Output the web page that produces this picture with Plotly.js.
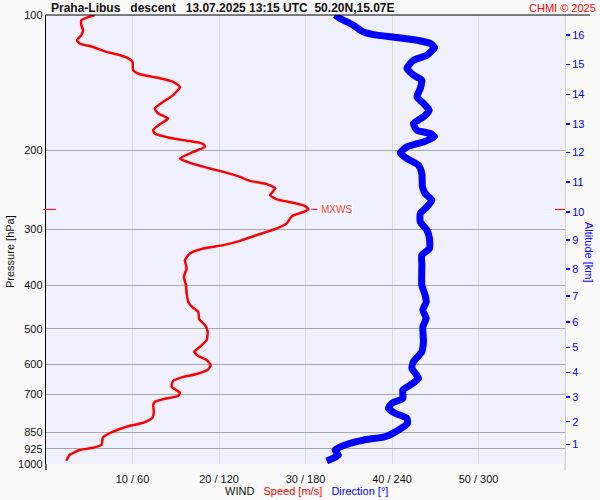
<!DOCTYPE html>
<html>
<head>
<meta charset="utf-8">
<script src="https://cdn.plot.ly/plotly-3.0.1.min.js"></script>
<style>
html,body{margin:0;padding:0;background:#fafafa;}
#chart{width:600px;height:500px;}
</style>
</head>
<body>
<div id="chart"></div>
<script>
// ---- data ----
var speedPressures = [100,102.7,105.4,108.1,110.9,113.8,115.7,117.8,120.8,122.3,124.3,127.2,132.7,135.5,137.8,140.9,144.6,150.8,156.1,161.5,165.7,170.0,175.1,180.5,183.6,188.4,190.5,192.7,194.5,196.7,201.8,208.7,213.5,219.7,223.6,229.4,234.1,238.1,243.4,251.9,257.5,262.0,266.5,271.0,274.4,280.5,291.2,298.8,309.2,318.4,325.5,331.1,339.6,351.6,366.6,382.8,399.6,416.9,435.2,448.0,458.1,476.3,490.4,507.5,529.6,548.2,562.3,574.9,586.8,602.0,615.4,630.4,641.2,652.5,672.9,693.9,705.7,714.0,726.6,739.1,764.9,790.0,809.2,826.0,847.5,872.3,907.3,920.0,930.9,955.0,983.3];
var speedValues = [5.63,4.09,4.09,4.28,4.09,3.58,3.89,5.43,6.99,8.15,9.30,10.0,10.07,10.85,12.78,14.7,15.48,14.7,13.55,12.58,12.97,14.13,13.16,12.39,12.58,14.7,16.26,17.8,18.26,18.38,17.02,15.48,16.64,18.96,20.5,22.43,23.59,25.53,26.49,25.91,26.69,28.61,29.97,30.35,29.77,28.42,27.84,26.69,24.37,22.43,20.5,18.18,16.64,16.06,16.26,15.94,16.18,16.26,16.44,16.95,17.6,17.72,18.38,18.69,18.57,17.8,17.14,17.6,18.57,19.04,18.76,17.42,15.68,14.7,14.52,15.48,15.28,13.94,12.58,12.39,12.47,12.29,11.23,9.30,7.75,6.59,6.41,5.43,3.89,2.73,2.35];

var dirPressures = [100,101.8,105.4,109.1,110.9,112.2,113.8,115.7,118.1,122.9,126.1,131.5,136.1,139.7,145.8,152.2,157.4,162.9,168.6,174.4,180.5,183.6,186.8,191.7,196.7,202.8,208.7,216.0,225.4,241.4,249.7,258.5,267.5,276.7,288.8,301.4,314.6,331.1,342.5,360.6,399.6,420.5,435.2,454.2,473.8,494.6,534.2,562.3,591.9,612.4,644.6,667.3,684.3,714.0,732.6,751.6,771.1,791.1,811.6,840.0,869.5,884.5,907.3,930.9,955.0,984.7];
var dirValues = [200.5,204.0,213.2,220.2,229.5,243.4,257.3,266.5,269.5,264.2,254.9,250.3,254.9,260.7,259.6,257.3,261.8,265.8,261.8,254.9,257.3,266.5,269.5,261.8,250.3,245.7,250.3,258.4,260.7,261.1,263.0,267.7,264.2,259.6,259.6,264.2,266.0,266.0,260.7,260.7,260.7,263.0,263.7,261.4,263.7,261.4,261.8,260.7,254.9,253.8,258.4,252.6,247.5,247.5,239.9,237.5,242.2,250.3,250.7,244.5,235.2,220.2,207.4,200.5,202.8,194.7];

var pressureTicks = [100,200,300,400,500,600,700,850,925,1000];
var speedTicks = [10,20,30,40,50];
var dirTicks = [60,120,180,240,300];
var altitudePressures = [904,805.1,708.4,625.2,549.9,483.0,422.7,368.1,317.2,274.4,235.3,202.3,174.8,150.3,128.9,110.9];
var altitudeLabels = ['1','2','3','4','5','6','7','8','9','10','11','12','13','14','15','16'];

var titleText = 'Praha-Libus   descent   13.07.2025 13:15 UTC  50.20N,15.07E';

// ---- helpers ----
var FONT = 'Liberation Sans, Arial, sans-serif';
var L = 46, R = 35, T = 15, B = 36, W = 600, H = 500;
var PW = W - L - R, PH = H - T - B;
function px2paperX(px){ return (px - L) / PW; }
function px2paperY(py){ return (H - B - py) / PH; }
function pres2paperY(p){ return 3 - Math.log10(p); }
function nb(s){ return s.replace(/ /g, '\u00a0'); }

var iMax = 0;
for (var i = 1; i < speedValues.length; i++) if (speedValues[i] > speedValues[iMax]) iMax = i;
var pMax = speedPressures[iMax], sMax = speedValues[iMax];
var yMax = pres2paperY(pMax);

var tickText = speedTicks.map(function(v, i){ return v + ' / ' + dirTicks[i]; });

var traces = [
  {x: speedValues, y: speedPressures, type: 'scatter', mode: 'lines',
   line: {color: '#ff0000', width: 2.5, shape: 'spline', smoothing: 0.5},
   xaxis: 'x', yaxis: 'y', hoverinfo: 'skip'},
  {x: dirValues, y: dirPressures, type: 'scatter', mode: 'lines',
   line: {color: '#0000ff', width: 7, shape: 'spline', smoothing: 0.5},
   xaxis: 'x2', yaxis: 'y', hoverinfo: 'skip'},
  {x: [null], y: [null], type: 'scatter', mode: 'lines', xaxis: 'x', yaxis: 'y2', hoverinfo: 'skip'}
];

var layout = {
  width: W, height: H,
  margin: {l: L, r: R, t: T, b: B, pad: 0},
  paper_bgcolor: '#fafafa',
  plot_bgcolor: '#f0f0ff',
  showlegend: false,
  font: {family: FONT, size: 11, color: '#111'},
  xaxis: {range: [0, 60], tickvals: speedTicks, ticktext: tickText,
          showgrid: true, gridcolor: '#dcdcdc', gridwidth: 1,
          zeroline: false, showline: false, ticks: '', ticklabelstandoff: 7,
          tickfont: {family: FONT, size: 11, color: '#111'}, fixedrange: true},
  xaxis2: {range: [0, 360], overlaying: 'x', visible: false, fixedrange: true},
  yaxis: {type: 'log', range: [3, 2], tickvals: pressureTicks,
          ticktext: pressureTicks.map(String),
          showgrid: true, gridcolor: '#a8a8a8', gridwidth: 1,
          zeroline: false, showline: true, linecolor: '#000', linewidth: 1.2,
          ticks: '', tickfont: {family: FONT, size: 11, color: '#111'}, fixedrange: true},
  yaxis2: {type: 'log', range: [3, 2], overlaying: 'y', side: 'right',
           tickvals: altitudePressures, ticktext: altitudeLabels,
           showgrid: false, zeroline: false, showline: true, linecolor: '#d4d4d4', linewidth: 1,
           ticks: 'outside', ticklen: 4, tickcolor: '#0000ff', tickwidth: 1.5,
           tickfont: {family: FONT, size: 11, color: '#0000ff'}, fixedrange: true},
  shapes: [
    // top black frame line
    {type: 'line', xref: 'paper', yref: 'paper', x0: px2paperX(45), x1: px2paperX(590), y0: 1, y1: 1,
     line: {color: '#000', width: 1.2}},
    // left axis extension below plot
    {type: 'line', xref: 'paper', yref: 'paper', x0: 0, x1: 0, y0: 0, y1: px2paperY(470),
     line: {color: '#000', width: 1.2}},
    // right axis extension below plot
    {type: 'line', xref: 'paper', yref: 'paper', x0: 1, x1: 1, y0: 0, y1: px2paperY(470),
     line: {color: '#c8c8c8', width: 1}},
    // MXWS marks
    {type: 'line', xref: 'paper', yref: 'paper', x0: px2paperX(43), x1: px2paperX(56), y0: yMax, y1: yMax,
     line: {color: '#ff0000', width: 1}},
    {type: 'line', xref: 'paper', yref: 'paper', x0: px2paperX(555), x1: 1, y0: yMax, y1: yMax,
     line: {color: '#ff0000', width: 1}},
    {type: 'line', xref: 'x', yref: 'paper', xsizemode: 'pixel', xanchor: sMax, x0: 3, x1: 9, y0: yMax, y1: yMax,
     line: {color: '#ff0000', width: 1}}
  ],
  annotations: [
    {text: '<b>' + nb(titleText) + '</b>', xref: 'paper', yref: 'paper',
     x: px2paperX(49), y: px2paperY(7.5), xanchor: 'left', yanchor: 'middle', showarrow: false,
     font: {family: FONT, size: 12, color: '#111'}},
    {text: 'CHMI © 2025', xref: 'paper', yref: 'paper',
     x: px2paperX(598), y: px2paperY(7.5), xanchor: 'right', yanchor: 'middle', showarrow: false,
     font: {family: FONT, size: 11, color: '#ff0000'}},
    {text: 'Pressure [hPa]', xref: 'paper', yref: 'paper', textangle: -90,
     x: px2paperX(10), y: px2paperY(252), xanchor: 'center', yanchor: 'middle', showarrow: false,
     font: {family: FONT, size: 11, color: '#111'}},
    {text: 'Altitude [km]', xref: 'paper', yref: 'paper', textangle: 90,
     x: px2paperX(589), y: px2paperY(252), xanchor: 'center', yanchor: 'middle', showarrow: false,
     font: {family: FONT, size: 11, color: '#0000ff'}},
    {text: nb('WIND   ') + '<span style="color:#ff0000">' + nb('Speed [m/s]') + '</span>' + nb('   ') +
           '<span style="color:#0000ff">' + nb('Direction [°]') + '</span>',
     xref: 'paper', yref: 'paper', x: px2paperX(306.5), y: px2paperY(491),
     xanchor: 'center', yanchor: 'middle', showarrow: false,
     font: {family: FONT, size: 11, color: '#111'}},
    {text: 'MXWS', xref: 'x', yref: 'paper', x: sMax, xshift: 11, y: yMax,
     xanchor: 'left', yanchor: 'middle', showarrow: false, bgcolor: '#ffffff', borderpad: 0,
     font: {family: FONT, size: 10, color: '#ff3333'}}
  ]
};

Plotly.newPlot('chart', traces, layout, {staticPlot: true, displayModeBar: false});
</script>
</body>
</html>
